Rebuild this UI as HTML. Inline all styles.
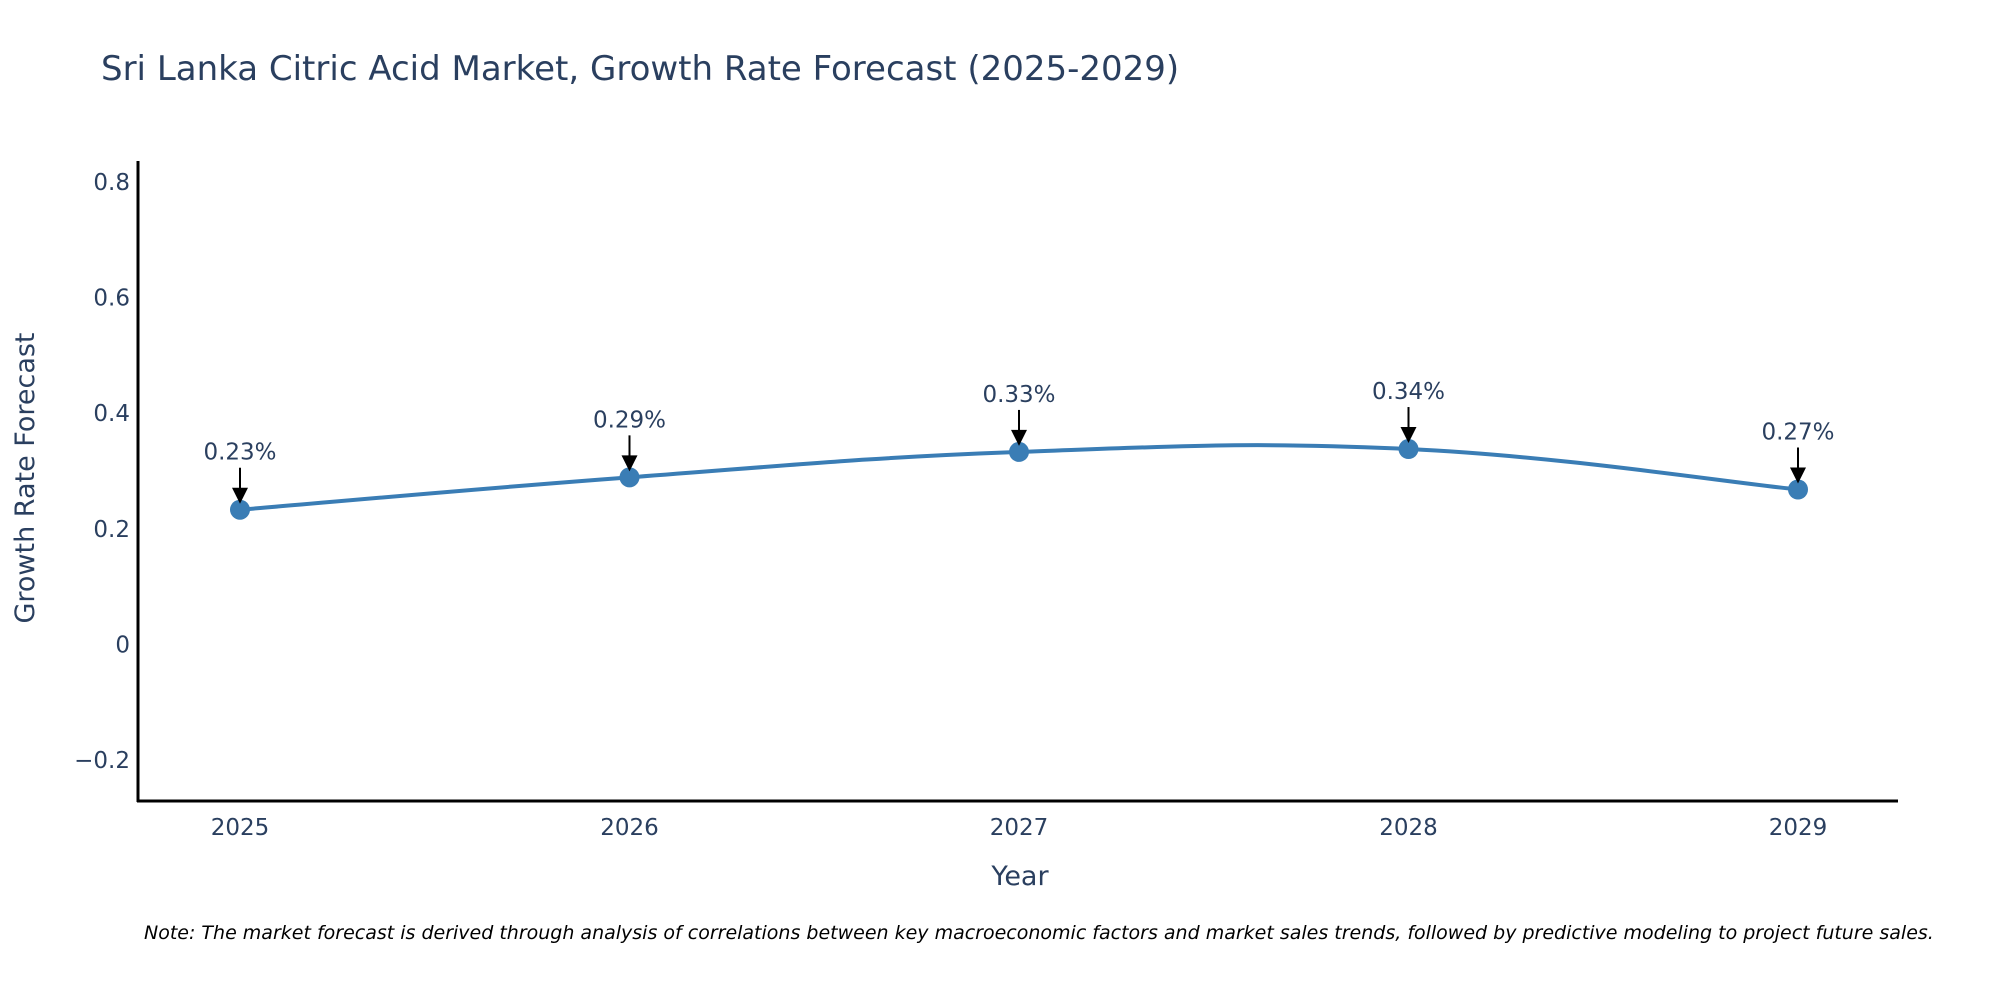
<!DOCTYPE html>
<html><head><meta charset="utf-8"><style>
html,body{margin:0;padding:0;background:#fff;}
svg{display:block;font-family:"DejaVu Sans","Liberation Sans",sans-serif;}
</style></head><body>
<svg id="chart" width="2000" height="1000">
<text x="101" y="80" font-size="34" fill="#2a3f5f">Sri Lanka Citric Acid Market, Growth Rate Forecast (2025-2029)</text>
<g id="yticks"></g><g id="xticks"></g>
<line x1="138" y1="161" x2="138" y2="802" stroke="#000" stroke-width="3"/>
<line x1="137" y1="801" x2="1898" y2="801" stroke="#000" stroke-width="3"/>
<path id="line" fill="none" stroke="#3a7db5" stroke-width="4"/>
<g id="marks"></g>
<text x="34" y="478" font-size="27" fill="#2a3f5f" text-anchor="middle" transform="rotate(-90 34 478)">Growth Rate Forecast</text>
<text x="1020" y="885" font-size="27" fill="#2a3f5f" text-anchor="middle">Year</text>
<text x="144" y="939" font-size="19" font-style="italic" fill="#000">Note: The market forecast is derived through analysis of correlations between key macroeconomic factors and market sales trends, followed by predictive modeling to project future sales.</text>
</svg>
<script>
const years = ["2025","2026","2027","2028","2029"];
const values = [0.233, 0.289, 0.333, 0.338, 0.268];
const labels = ["0.23%","0.29%","0.33%","0.34%","0.27%"];
const yTicks = [-0.2, 0, 0.2, 0.4, 0.6, 0.8];
const yTickLabels = ["\u22120.2","0","0.2","0.4","0.6","0.8"];

const NS="http://www.w3.org/2000/svg";
const x = i => 240 + i*389.5;
const y = v => 644.4 - v*578;
function mk(tag, attrs, parent){const e=document.createElementNS(NS,tag);for(const k in attrs)e.setAttribute(k,attrs[k]);parent.appendChild(e);return e;}

const yt=document.getElementById('yticks');
yTicks.forEach((t,i)=>{
  const e=mk('text',{x:130,y:y(t)+8,'font-size':23,fill:'#2a3f5f','text-anchor':'end'},yt);
  
  
  e.textContent=yTickLabels[i];
});
const xt=document.getElementById('xticks');
years.forEach((yr,i)=>{
  const e=mk('text',{x:x(i),y:835,'font-size':23,fill:'#2a3f5f','text-anchor':'middle'},xt);
  
  
  e.textContent=yr;
});

const pts=values.map((v,i)=>[x(i),y(v)]);
let d=`M${pts[0][0]},${pts[0][1]}`;
for(let i=0;i<pts.length-1;i++){
  const p0=pts[Math.max(i-1,0)],p1=pts[i],p2=pts[i+1],p3=pts[Math.min(i+2,pts.length-1)];
  const s=1/5;
  d+=` C${p1[0]+(p2[0]-p0[0])*s},${p1[1]+(p2[1]-p0[1])*s} ${p2[0]-(p3[0]-p1[0])*s},${p2[1]-(p3[1]-p1[1])*s} ${p2[0]},${p2[1]}`;
}
document.getElementById('line').setAttribute('d',d);

const mg=document.getElementById('marks');
pts.forEach((p,i)=>{
  const c=mk('circle',{cx:p[0],cy:p[1],r:10,fill:'#3a7db5'},mg);
  
  
  const ln=mk('line',{x1:p[0],y1:p[1]-42,x2:p[0],y2:p[1]-20,stroke:'#000','stroke-width':2},mg);
  
  
  const hd=mk('polygon',{points:`${p[0]-8},${p[1]-22} ${p[0]+8},${p[1]-22} ${p[0]},${p[1]-6}`,fill:'#000'},mg);
  
  
  const t=mk('text',{x:p[0],y:p[1]-50,'font-size':23,fill:'#2a3f5f','text-anchor':'middle'},mg);
  
  
  t.textContent=labels[i];
});
</script>
</body></html>
